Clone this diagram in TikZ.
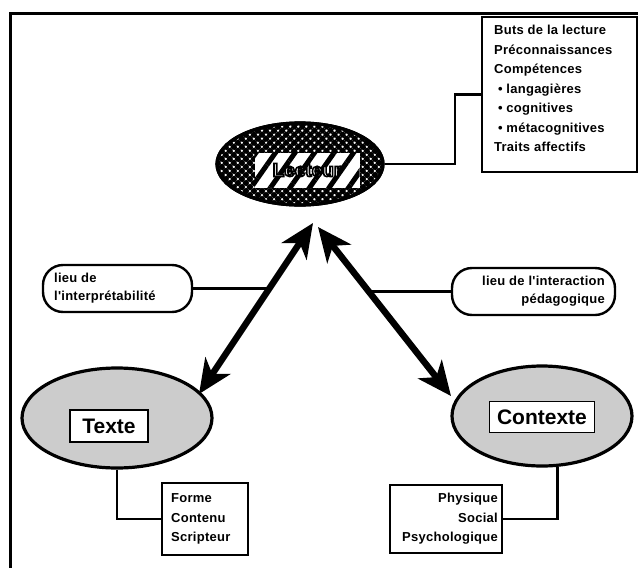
\documentclass[tikz,border=0pt]{standalone}
\usepackage{fontspec}
\setmainfont{Liberation Sans}
\newfontfamily\notefont[LetterSpace=2]{Liberation Sans}
\usetikzlibrary{shapes.geometric,arrows.meta,patterns.meta,calc}

% outlined lettering: glyphs filled white and stroked black
\newcommand{\outlinetext}[1]{%
  \special{pdf:literal direct 2 Tr 1.6 w 0 G}#1\special{pdf:literal direct 0 Tr}}

\tikzset{
  frameline/.style={line width=3pt, line cap=rect},
  hub/.style={ellipse, draw, line width=3.2pt, inner sep=0pt},
  tag/.style={draw, line width=1.8pt, fill=white, inner sep=0pt,
    font=\fontsize{21}{24}\selectfont\bfseries},
  infobox/.style={draw, line width=2.4pt, inner sep=0pt,
    font=\notefont\bfseries\fontsize{13}{19.5}\selectfont},
  lieu/.style={draw, line width=2.4pt, rounded corners=20pt, inner sep=0pt,
    font=\notefont\bfseries\fontsize{13}{18}\selectfont},
  link/.style={line width=2.4pt},
  dbl/.style={line width=6.5pt,
    {Stealth[length=34pt,width=30pt,inset=10pt]}-{Stealth[length=34pt,width=30pt,inset=10pt]}},
}

\begin{document}
\begin{tikzpicture}[x=1pt,y=-1pt]
\useasboundingbox (0,0) rectangle (638,574);

% outer frame (top and left edges)
\draw[frameline] (638,13) -- (10,13) -- (10,566);

% reader
\node[hub, minimum width=166pt, minimum height=82pt, fill=white] (lecteur) at (300,164) {};
\fill[pattern={Hatch[angle=45,distance=5.7pt,line width=3.6pt]}]
  (lecteur.center) ellipse [x radius=83pt, y radius=41pt];
\draw[line width=3.2pt] (lecteur.center) ellipse [x radius=83pt, y radius=41pt];
\node[minimum width=105pt, minimum height=35pt, inner sep=0pt, fill=white] (lbox) at (307,170) {};
\fill[pattern={Lines[angle=55,distance=16pt,line width=5pt]}] (lbox.south west) rectangle (lbox.north east);
\node[font=\fontsize{19}{22}\selectfont\bfseries, text=white] (ltext) at (lbox.center) {\outlinetext{Lecteur}};

% reader's characteristics
\node[infobox, minimum width=155pt, minimum height=155pt, fill=white] (rules) at (559.5,94.5) {};
\node[infobox, draw=none, anchor=north west, align=left] (rulestext) at (493,24) {%
  Buts de la lecture\\
  Préconnaissances\\
  Compétences\\
  \ • langagières\\
  \ • cognitives\\
  \ • métacognitives\\
  Traits affectifs};
\coordinate (bend) at (455,164);
\draw[link] (lecteur.east) -- (bend) |- (rules.west);

% text
\node[hub, minimum width=190pt, minimum height=100pt, fill=black!20] (texte) at (117,418) {};
\node[tag, minimum width=78pt, minimum height=32pt] (textetag) at (109,426) {Texte};
\node[infobox, minimum width=86pt, minimum height=72pt, fill=white] (texteinfo) at (205,519) {};
\node[infobox, draw=none, align=left, anchor=west] (texteinfotext) at (170,519) {Forme\\Contenu\\Scripteur};
\draw[link] (texte.south) |- (texteinfo.west);

% context
\node[hub, minimum width=180pt, minimum height=100pt, fill=black!20] (contexte) at (542,416) {};
\node[tag, minimum width=105pt, minimum height=31pt] (contextetag) at (542,417) {Contexte};
\node[infobox, minimum width=112pt, minimum height=68pt, fill=white] (contexteinfo) at (446,519) {};
\node[infobox, draw=none, align=right, anchor=east] (contexteinfotext) at (499,519) {Physique\\Social\\Psychologique};
\draw[link] (contexteinfo.east) -| (contexte.-73);

% two-way arrows
\coordinate (tipL) at (313,223);
\coordinate (tipT) at (199,394);
\coordinate (tipR) at (318,227);
\coordinate (tipC) at (451,396);
\draw[dbl] (tipT) -- (tipL);
\draw[dbl] (tipR) -- (tipC);

% place labels
\node[lieu, minimum width=149pt, minimum height=47pt, fill=white] (lieuA) at (117.5,288.5) {};
\node[lieu, draw=none, align=left, anchor=west] (lieuAtext) at (53,288.5) {lieu de\\l'interprétabilité};
\draw[link] (lieuA.east) -- (lieuA.east -| {$(tipL)!0.39!(tipT)$});

\node[lieu, minimum width=163pt, minimum height=47pt, fill=white] (lieuB) at (533.5,291.5) {};
\node[lieu, draw=none, align=right, anchor=east] (lieuBtext) at (606,291.5) {lieu de l'interaction\\pédagogique};
\draw[link] (lieuB.west) -- (lieuB.west -| {$(tipR)!0.38!(tipC)$});
\end{tikzpicture}
\end{document}
